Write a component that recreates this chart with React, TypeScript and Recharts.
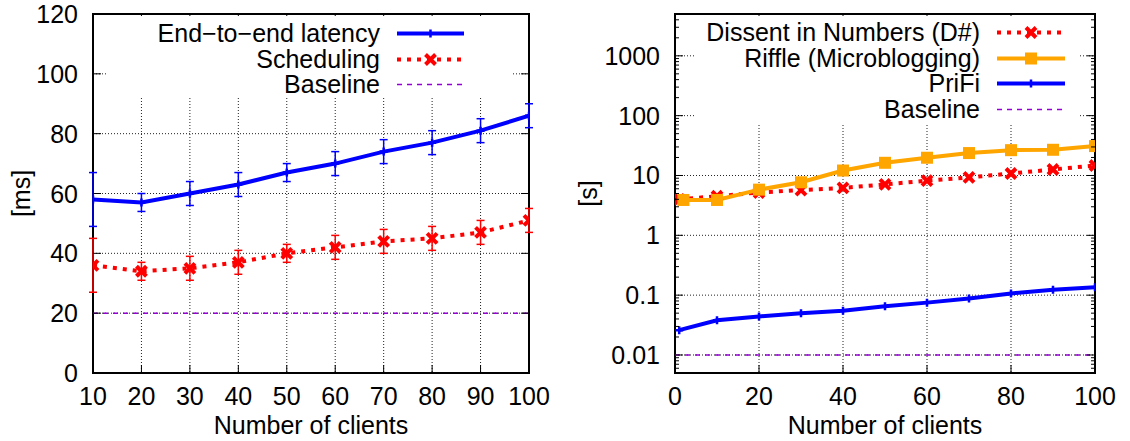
import React from "react";
import {
  LineChart,
  Line,
  XAxis,
  YAxis,
  CartesianGrid,
  ErrorBar,
  ReferenceLine,
  ReferenceArea,
  Legend,
} from "recharts";

const FONT = '"Liberation Sans", Arial, Helvetica, sans-serif';
const FS = 25;

// left panel: latency [ms]
const clients = [10, 20, 30, 40, 50, 60, 70, 80, 90, 100];
const e2eLatency = [58, 57, 60, 63, 67, 70, 74, 77, 81, 86];
const e2eError = [9, 3, 4, 4, 3, 4, 4, 4, 4, 4];
const schedLatency = [36, 34, 35, 37, 40, 42, 44, 45, 47, 51];
const schedError = [9, 3, 4, 4, 3, 4, 4, 4, 4, 4];
const baselineMs = 20;
const msTicks = [0, 20, 40, 60, 80, 100, 120];

// right panel: time [s], log scale
const dsharpClients = [1, 10, 20, 30, 40, 50, 60, 70, 80, 90, 100];
const dsharpTime = [4.0, 4.5, 5.2, 5.7, 6.2, 7.1, 8.2, 9.3, 10.8, 12.6, 14.7];
const riffleClients = [2, 10, 20, 30, 40, 50, 60, 70, 80, 90, 100];
const riffleTime = [3.9, 3.9, 5.8, 7.7, 12.1, 16.3, 19.8, 23.7, 26.5, 26.9, 31];
const prifiClients = [1, 10, 20, 30, 40, 50, 60, 70, 80, 90, 100];
const prifiTime = [0.026, 0.038, 0.044, 0.05, 0.055, 0.065, 0.075, 0.088, 0.107, 0.123, 0.136];
const baselineS = 0.01;
const sMajorTicks = [0.01, 0.1, 1, 10, 100, 1000];
const rightClientTicks = [0, 20, 40, 60, 80, 100];

const BLUE = "#0000ff";
const RED = "#ff0000";
const ORANGE = "#ffa500";
const VIOLET = "#9400d3";

const leftData = clients.map((c, i) => ({
  clients: c,
  e2e: e2eLatency[i],
  e2eErr: e2eError[i],
  sched: schedLatency[i],
  schedErr: schedError[i],
}));

const pts = (xs: number[], ys: number[]) => xs.map((x, i) => ({ x, y: ys[i] }));

// minor ticks for the log axis (2..9 per decade)
const logTicks: number[] = [];
[0.001, ...sMajorTicks].forEach((d) => {
  for (let k = 1; k <= 9; k++) {
    const v = +(d * k).toPrecision(3);
    if (v > 0.005 && v < 5000) logTicks.push(v);
  }
});

type Marker = "plus" | "cross" | "square" | undefined;

function drawMarker(kind: Marker, color: string, cx: number, cy: number, key?: any) {
  if (kind === "plus")
    return (
      <path key={key} d={`M${cx - 4},${cy}H${cx + 4}M${cx},${cy - 4}V${cy + 4}`}
        stroke={color} strokeWidth={2.5} fill="none" strokeDasharray="none" />
    );
  if (kind === "cross")
    return (
      <path key={key} d={`M${cx - 5},${cy - 5}L${cx + 5},${cy + 5}M${cx - 5},${cy + 5}L${cx + 5},${cy - 5}`}
        stroke={color} strokeWidth={4} fill="none" strokeDasharray="none" />
    );
  if (kind === "square")
    return <rect key={key} x={cx - 6} y={cy - 6} width={12} height={12} fill={color} />;
  return <g key={key} />;
}

const dotOf = (kind: Marker, color: string) => (p: any) =>
  p.cx == null ? <g key={p.index} /> : drawMarker(kind, color, p.cx, p.cy, p.index);

function yTick(L: number, R: number, majors: number[] | null) {
  return (p: any) => {
    const v = p.payload.value;
    const major = !majors || majors.includes(v);
    const len = major ? 8 : 4;
    return (
      <g>
        <line x1={L} x2={L + len} y1={p.y} y2={p.y} stroke="#000" strokeWidth={1} />
        <line x1={R - len} x2={R} y1={p.y} y2={p.y} stroke="#000" strokeWidth={1} />
        {major && (
          <text x={L - 15} y={p.y} dy="0.36em" textAnchor="end" fontSize={FS} fontFamily={FONT} fill="#000">
            {v}
          </text>
        )}
      </g>
    );
  };
}

function xTick(T: number, B: number) {
  return (p: any) => (
    <g>
      <line x1={p.x} x2={p.x} y1={B} y2={B - 8} stroke="#000" strokeWidth={1} />
      <line x1={p.x} x2={p.x} y1={T} y2={T + 8} stroke="#000" strokeWidth={1} />
      <text x={p.x} y={405} textAnchor="middle" fontSize={FS} fontFamily={FONT} fill="#000">
        {p.payload.value}
      </text>
    </g>
  );
}

type Item = { label: string; color: string; width: number; dash?: string; marker?: Marker };

function legendContent(items: Item[], textW: number, sampleW: number, padTop: number) {
  return () => (
    <div style={{ paddingTop: padTop, fontFamily: FONT, fontSize: FS, color: "#000" }}>
      {items.map((it) => (
        <div key={it.label} style={{ display: "flex", alignItems: "center", height: 25.5 }}>
          <div style={{ width: textW, textAlign: "right", lineHeight: "25.5px", whiteSpace: "nowrap" }}>
            {it.label}
          </div>
          <svg width={sampleW} height={25} style={{ marginLeft: 17, display: "block" }}>
            <line x1={0} x2={sampleW} y1={12.5} y2={12.5} stroke={it.color}
              strokeWidth={it.width} strokeDasharray={it.dash} />
            {drawMarker(it.marker, it.color, sampleW / 2, 12.5)}
          </svg>
        </div>
      ))}
    </div>
  );
}

const leftItems: Item[] = [
  { label: "End\u2212to\u2212end latency", color: BLUE, width: 4, marker: "plus" },
  { label: "Scheduling", color: RED, width: 4, dash: "4 6", marker: "cross" },
  { label: "Baseline", color: VIOLET, width: 1.5, dash: "5 5" },
];

const rightItems: Item[] = [
  { label: "Dissent in Numbers (D#)", color: RED, width: 4, dash: "4 6", marker: "cross" },
  { label: "Riffle (Microblogging)", color: ORANGE, width: 4, marker: "square" },
  { label: "PriFi", color: BLUE, width: 4, marker: "plus" },
  { label: "Baseline", color: VIOLET, width: 1.5, dash: "5 5" },
];

const axisTitle = (text: string, x: number) => (p: any) => {
  const cy = p.viewBox.y + p.viewBox.height / 2;
  return (
    <text x={x} y={cy} transform={`rotate(-90 ${x} ${cy})`} textAnchor="middle" dy="0.36em"
      fontSize={FS} fontFamily={FONT} fill="#000">
      {text}
    </text>
  );
};

const xTitle = (p: any) => (
  <text x={p.viewBox.x + p.viewBox.width / 2} y={434} textAnchor="middle" fontSize={FS}
    fontFamily={FONT} fill="#000">
    Number of clients
  </text>
);

const gridStyle = { stroke: "#222", strokeDasharray: "1 2", strokeWidth: 1 };

function LatencyChart() {
  return (
    <LineChart width={560} height={441} data={leftData} margin={{ top: 14, right: 31, bottom: 0, left: 0 }}>
      <CartesianGrid {...gridStyle} horizontalValues={msTicks} verticalValues={clients} />
      <XAxis type="number" dataKey="clients" domain={[10, 100]} ticks={clients} interval={0}
        allowDataOverflow height={68} axisLine={false} tickLine={false} tick={xTick(14, 373)}
        label={{ value: "Number of clients", content: xTitle }} />
      <YAxis type="number" domain={[0, 120]} ticks={msTicks} interval={0} allowDataOverflow width={93}
        axisLine={false} tickLine={false} tick={yTick(93, 529, null)}
        label={{ value: "[ms]", content: axisTitle("[ms]", 21) }} />
      <ReferenceLine y={baselineMs} stroke={VIOLET} strokeWidth={1.5} strokeDasharray="5 5" />
      <Line dataKey="sched" stroke={RED} strokeWidth={4} strokeDasharray="4 6" isAnimationActive={false}
        dot={dotOf("cross", RED)} activeDot={false}>
        <ErrorBar dataKey="schedErr" width={4} stroke={RED} strokeWidth={1.5} direction="y" isAnimationActive={false} />
      </Line>
      <Line dataKey="e2e" stroke={BLUE} strokeWidth={4} isAnimationActive={false}
        dot={dotOf("plus", BLUE)} activeDot={false}>
        <ErrorBar dataKey="e2eErr" width={4} stroke={BLUE} strokeWidth={1.5} direction="y" isAnimationActive={false} />
      </Line>
      <ReferenceArea x1={10} x2={100} y1={0} y2={120} fill="none" fillOpacity={0} stroke="#000"
        strokeWidth={2} ifOverflow="visible" />
      <Legend layout="horizontal" verticalAlign="middle" align="center" width={406} height={82}
        wrapperStyle={{ left: 107, top: 16, width: 406, height: 82, background: "#fff" }}
        content={legendContent(leftItems, 273, 67, 5)} />
    </LineChart>
  );
}

function TimeChart() {
  return (
    <LineChart width={565} height={441} margin={{ top: 14, right: 35, bottom: 0, left: 0 }}>
      <CartesianGrid {...gridStyle} horizontalValues={sMajorTicks} verticalValues={rightClientTicks} />
      <XAxis type="number" dataKey="x" domain={[0, 100]} ticks={rightClientTicks} interval={0}
        allowDataOverflow height={68} axisLine={false} tickLine={false} tick={xTick(14, 373)}
        label={{ value: "Number of clients", content: xTitle }} />
      <YAxis type="number" scale="log" domain={[0.005, 5000]} ticks={logTicks} interval={0}
        allowDataOverflow width={110} axisLine={false} tickLine={false} tick={yTick(110, 530, sMajorTicks)}
        label={{ value: "[s]", content: axisTitle("[s]", 23) }} />
      <ReferenceLine y={baselineS} stroke={VIOLET} strokeWidth={1.5} strokeDasharray="5 5" />
      <Line data={pts(prifiClients, prifiTime)} dataKey="y" stroke={BLUE} strokeWidth={4}
        isAnimationActive={false} dot={dotOf("plus", BLUE)} activeDot={false} />
      <Line data={pts(dsharpClients, dsharpTime)} dataKey="y" stroke={RED} strokeWidth={4}
        strokeDasharray="4 6" isAnimationActive={false} dot={dotOf("cross", RED)} activeDot={false} />
      <Line data={pts(riffleClients, riffleTime)} dataKey="y" stroke={ORANGE} strokeWidth={4}
        isAnimationActive={false} dot={dotOf("square", ORANGE)} activeDot={false} />
      <ReferenceArea x1={0} x2={100} y1={0.005} y2={5000} fill="none" fillOpacity={0} stroke="#000"
        strokeWidth={2} ifOverflow="visible" />
      <Legend layout="horizontal" verticalAlign="middle" align="center" width={385} height={108}
        wrapperStyle={{ left: 130, top: 16, width: 385, height: 108, background: "#fff" }}
        content={legendContent(rightItems, 285, 68, 4)} />
    </LineChart>
  );
}

export default function App() {
  return (
    <div style={{ position: "relative", width: 1130, height: 441, background: "#fff" }}>
      <style>{"body{margin:0}"}</style>
      <div style={{ position: "absolute", left: 0, top: 0 }}>
        <LatencyChart />
      </div>
      <div style={{ position: "absolute", left: 565, top: 0 }}>
        <TimeChart />
      </div>
    </div>
  );
}
